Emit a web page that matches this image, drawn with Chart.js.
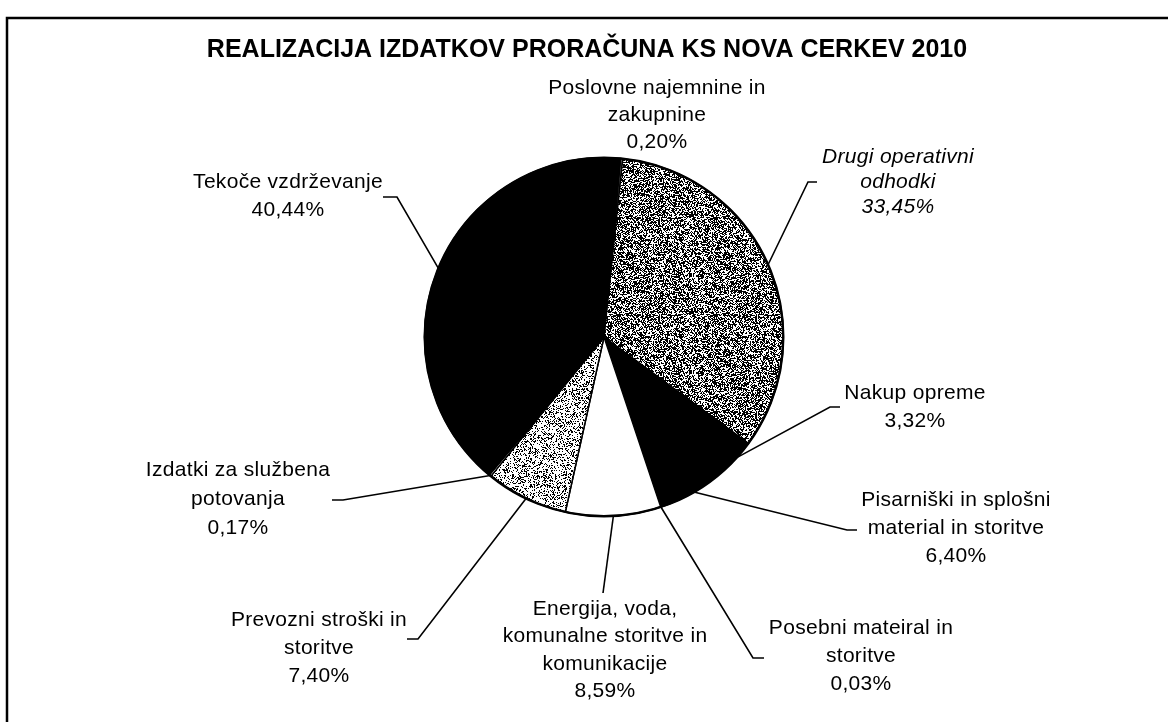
<!DOCTYPE html>
<html>
<head>
<meta charset="utf-8">
<title>Realizacija izdatkov proračuna KS Nova Cerkev 2010</title>
<script src="https://cdn.jsdelivr.net/npm/chart.js@4.4.0/dist/chart.umd.min.js"></script>
<style>
  html, body { margin: 0; padding: 0; background: #fff; }
  #wrap { position: relative; width: 1168px; height: 722px; }
</style>
</head>
<body>
<div id="wrap"><canvas id="pieChart"></canvas></div>
<script>
(function () {
  'use strict';

  // --- data ---
  const title = 'REALIZACIJA IZDATKOV PRORAČUNA KS NOVA CERKEV 2010';
  const categories = [
    'Poslovne najemnine in zakupnine',
    'Drugi operativni odhodki',
    'Nakup opreme',
    'Pisarniški in splošni material in storitve',
    'Posebni mateiral in storitve',
    'Energija, voda, komunalne storitve in komunikacije',
    'Prevozni stroški in storitve',
    'Izdatki za službena potovanja',
    'Tekoče vzdrževanje'
  ];
  const shares = [0.20, 33.45, 3.32, 6.40, 0.03, 8.59, 7.40, 0.17, 40.44];
  const labelLines = [
    ['Poslovne najemnine in', 'zakupnine'],
    ['Drugi operativni', 'odhodki'],
    ['Nakup opreme'],
    ['Pisarniški in splošni', 'material in storitve'],
    ['Posebni mateiral in', 'storitve'],
    ['Energija, voda,', 'komunalne storitve in', 'komunikacije'],
    ['Prevozni stroški in', 'storitve'],
    ['Izdatki za službena', 'potovanja'],
    ['Tekoče vzdrževanje']
  ];

  // --- layout of the labels (text centre, first line y, leader tick) ---
  const labelPos = [
    { x: 657, y: 88, lh: 27, tick: null },
    { x: 898, y: 157, lh: 25, italic: true, tick: [817, 808, 182] },
    { x: 915, y: 393, lh: 28, tick: [840, 830, 407] },
    { x: 956, y: 500, lh: 28, tick: [857, 847, 530] },
    { x: 861, y: 628, lh: 28, tick: [764, 753, 658] },
    { x: 605, y: 609, lh: 27.5, tick: [603, 603, 593] },
    { x: 319, y: 620, lh: 28, tick: [407, 418, 639] },
    { x: 238, y: 470, lh: 29, tick: [332, 343, 500] },
    { x: 288, y: 182, lh: 28, tick: [383, 397, 197] }
  ];

  const FONT = '"Liberation Sans", Arial, sans-serif';

  function stipple(ink, size) {
    const c = document.createElement('canvas');
    c.width = size; c.height = size;
    const g = c.getContext('2d');
    const img = g.createImageData(size, size);
    for (let y = 0; y < size; y++) {
      for (let x = 0; x < size; x++) {
        // cheap deterministic hash for a grainy print texture
        let h = (x * 374761393 + y * 668265263) | 0;
        h = Math.imul(h ^ (h >>> 13), 1274126177);
        h = (h ^ (h >>> 16)) >>> 0;
        const v = (h % 1000) / 1000 < ink ? 0 : 255;
        const i = (y * size + x) * 4;
        img.data[i] = img.data[i + 1] = img.data[i + 2] = v;
        img.data[i + 3] = 255;
      }
    }
    g.putImageData(img, 0, 0);
    return g.createPattern(c, 'repeat');
  }

  const fills = [
    '#808080',
    stipple(0.55, 97),
    '#000000',
    '#000000',
    '#000000',
    '#ffffff',
    stipple(0.30, 97),
    '#ffffff',
    '#000000'
  ];

  function pct(v) {
    return v.toFixed(2).replace('.', ',') + '%';
  }

  const decorations = {
    id: 'decorations',
    beforeDraw(chart) {
      const ctx = chart.ctx;
      ctx.save();
      ctx.strokeStyle = '#000';
      ctx.lineWidth = 2.5;
      ctx.beginPath();
      ctx.moveTo(1168, 18);
      ctx.lineTo(7, 18);
      ctx.lineTo(7, 722);
      ctx.stroke();

      ctx.fillStyle = '#000';
      ctx.font = 'bold 25px ' + FONT;
      ctx.textAlign = 'center';
      ctx.textBaseline = 'middle';
      ctx.fillText(title, 587, 50);
      ctx.restore();
    },
    afterDatasetsDraw(chart) {
      const ctx = chart.ctx;
      const arcs = chart.getDatasetMeta(0).data;
      ctx.save();
      ctx.fillStyle = '#000';
      ctx.strokeStyle = '#000';
      ctx.textAlign = 'center';
      ctx.textBaseline = 'middle';
      ctx.letterSpacing = '0.3px';

      arcs.forEach(function (arc, i) {
        const p = labelPos[i];
        const lines = labelLines[i].concat([pct(shares[i])]);
        ctx.font = (p.italic ? 'italic ' : '') + '21px ' + FONT;
        lines.forEach(function (t, k) {
          ctx.fillText(t, p.x, p.y + k * p.lh);
        });

        if (p.tick) {
          const mid = (arc.startAngle + arc.endAngle) / 2;
          const ex = arc.x + Math.cos(mid) * arc.outerRadius;
          const ey = arc.y + Math.sin(mid) * arc.outerRadius;
          ctx.lineWidth = 1.6;
          ctx.beginPath();
          ctx.moveTo(p.tick[0], p.tick[2]);
          ctx.lineTo(p.tick[1], p.tick[2]);
          ctx.lineTo(ex, ey);
          ctx.stroke();
        }
      });

      // outer rim of the pie
      const a0 = arcs[0];
      ctx.lineWidth = 2.5;
      ctx.beginPath();
      ctx.arc(a0.x, a0.y, a0.outerRadius, 0, Math.PI * 2);
      ctx.stroke();
      ctx.restore();
    }
  };

  new Chart(document.getElementById('pieChart'), {
    type: 'pie',
    data: {
      labels: categories,
      datasets: [{
        data: shares,
        backgroundColor: fills,
        borderColor: '#000000',
        borderWidth: 1.5,
        hoverOffset: 0
      }]
    },
    options: {
      responsive: true,
      maintainAspectRatio: false,
      animation: false,
      rotation: 5.3,
      layout: { padding: { top: 157, bottom: 205, left: 424, right: 384 } },
      plugins: {
        legend: { display: false },
        title: { display: false },
        tooltip: { enabled: false }
      }
    },
    plugins: [decorations]
  });
})();
</script>
</body>
</html>
